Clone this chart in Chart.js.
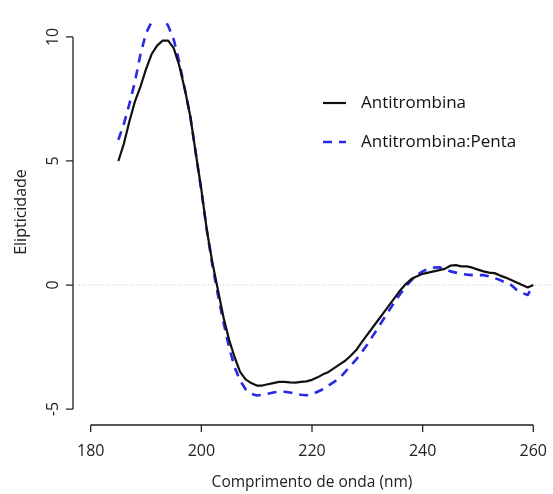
<!DOCTYPE html>
<html><head><meta charset="utf-8">
<script src="https://cdn.jsdelivr.net/npm/chart.js@4.4.1/dist/chart.umd.min.js"></script>
<style>html,body{margin:0;padding:0;background:#fff}#wrap{width:553px;height:494px}</style>
</head><body><div id="wrap"><canvas id="c" width="553" height="494"></canvas></div>
<script>
const wavelengths = [185,186,187,188,189,190,191,192,193,194,195,196,197,198,199,200,201,202,203,204,205,206,207,208,209,210,211,212,213,214,215,216,217,218,219,220,221,222,223,224,225,226,227,228,229,230,231,232,233,234,235,236,237,238,239,240,241,242,243,244,245,246,247,248,249,250,251,252,253,254,255,256,257,258,259,260];
const antitrombina = [5.0,5.7,6.6,7.4,8.0,8.7,9.3,9.65,9.85,9.85,9.55,8.85,7.9,6.8,5.3,3.85,2.2,0.9,-0.2,-1.3,-2.2,-2.9,-3.5,-3.8,-3.95,-4.05,-4.05,-4.0,-3.95,-3.9,-3.9,-3.92,-3.93,-3.9,-3.88,-3.82,-3.72,-3.6,-3.5,-3.35,-3.2,-3.05,-2.85,-2.62,-2.3,-2.0,-1.7,-1.4,-1.1,-0.8,-0.5,-0.2,0.05,0.25,0.35,0.45,0.5,0.55,0.6,0.65,0.78,0.8,0.75,0.75,0.7,0.62,0.55,0.5,0.48,0.38,0.3,0.2,0.1,0.0,-0.1,0.0];
const antitrombinaPenta = [5.85,6.5,7.3,8.2,9.3,10.15,10.6,10.82,10.82,10.45,9.9,9.0,7.9,6.8,5.3,3.8,2.2,0.8,-0.4,-1.5,-2.5,-3.3,-3.85,-4.2,-4.38,-4.45,-4.42,-4.38,-4.33,-4.3,-4.3,-4.33,-4.38,-4.42,-4.44,-4.4,-4.3,-4.2,-4.05,-3.9,-3.75,-3.5,-3.25,-3.0,-2.7,-2.4,-2.05,-1.7,-1.35,-1.0,-0.65,-0.35,-0.05,0.2,0.4,0.55,0.65,0.7,0.72,0.65,0.55,0.5,0.45,0.42,0.4,0.4,0.4,0.35,0.28,0.2,0.1,0.0,-0.2,-0.32,-0.4,0.0];
const xTicks = [180,200,220,240,260];
const yTicks = [-5,0,5,10];
const seriesNames = ['Antitrombina','Antitrombina:Penta'];
const xTitle = 'Comprimento de onda (nm)';
const yTitle = 'Elipticidade';

const FONT = '"Open Sans", sans-serif';

const axesPlugin = {
  id: 'rAxes',
  beforeDatasetsDraw(chart) {
    const {ctx, chartArea, scales} = chart;
    const y0 = scales.y.getPixelForValue(0);
    ctx.save();
    ctx.strokeStyle = '#c8c8c8';
    ctx.lineWidth = 1;
    ctx.setLineDash([1, 2]);
    ctx.beginPath();
    ctx.moveTo(chartArea.left, y0);
    ctx.lineTo(chartArea.right, y0);
    ctx.stroke();
    ctx.restore();
  },
  afterDraw(chart) {
    const {ctx, chartArea, scales} = chart;
    const xs = scales.x, ys = scales.y;
    ctx.save();
    ctx.strokeStyle = '#222';
    ctx.fillStyle = '#222';
    ctx.lineWidth = 1.3;
    // y axis
    const ax = chartArea.left;
    ctx.beginPath();
    ctx.moveTo(ax, ys.getPixelForValue(yTicks[0]));
    ctx.lineTo(ax, ys.getPixelForValue(yTicks[yTicks.length - 1]));
    yTicks.forEach(t => {
      const p = ys.getPixelForValue(t);
      ctx.moveTo(ax, p); ctx.lineTo(ax - 7, p);
    });
    ctx.stroke();
    ctx.font = '16px ' + FONT;
    ctx.textAlign = 'center';
    ctx.textBaseline = 'middle';
    yTicks.forEach(t => {
      const p = ys.getPixelForValue(t);
      ctx.save();
      ctx.translate(53, p);
      ctx.rotate(-Math.PI / 2);
      ctx.fillText(String(t), 0, 0);
      ctx.restore();
    });
    // x axis
    const ay = chartArea.bottom + 1;
    ctx.beginPath();
    ctx.moveTo(xs.getPixelForValue(xTicks[0]), ay);
    ctx.lineTo(xs.getPixelForValue(xTicks[xTicks.length - 1]), ay);
    xTicks.forEach(t => {
      const p = xs.getPixelForValue(t);
      ctx.moveTo(p, ay); ctx.lineTo(p, ay + 7);
    });
    ctx.stroke();
    xTicks.forEach(t => {
      ctx.fillText(String(t), xs.getPixelForValue(t), 451);
    });
    // titles
    ctx.font = '15.5px ' + FONT;
    ctx.fillText(xTitle, 312, 483);
    ctx.save();
    ctx.font = '16px ' + FONT;
    ctx.translate(21, 212);
    ctx.rotate(-Math.PI / 2);
    ctx.fillText(yTitle, 0, 0);
    ctx.restore();
    // legend
    ctx.font = '17px ' + FONT;
    ctx.textAlign = 'left';
    const rows = [103, 142];
    chart.data.datasets.forEach((ds, i) => {
      ctx.save();
      ctx.strokeStyle = ds.borderColor;
      ctx.lineWidth = ds.borderWidth;
      ctx.setLineDash(ds.borderDash || []);
      ctx.beginPath();
      ctx.moveTo(323, rows[i]); ctx.lineTo(346, rows[i]);
      ctx.stroke();
      ctx.restore();
      ctx.fillStyle = '#111';
      ctx.fillText(ds.label, 361, rows[i]);
    });
    ctx.restore();
  }
};

new Chart(document.getElementById('c'), {
  type: 'line',
  data: {
    datasets: [
      {
        label: seriesNames[0],
        data: wavelengths.map((w, i) => ({x: w, y: antitrombina[i]})),
        borderColor: '#111111',
        borderWidth: 2.2,
        pointRadius: 0,
        tension: 0,
        fill: false
      },
      {
        label: seriesNames[1],
        data: wavelengths.map((w, i) => ({x: w, y: antitrombinaPenta[i]})),
        borderColor: '#2a2ae6',
        borderWidth: 2.6,
        borderDash: [9, 7],
        pointRadius: 0,
        tension: 0,
        fill: false
      }
    ]
  },
  options: {
    responsive: false,
    animation: false,
    devicePixelRatio: 1,
    layout: {padding: {left: 73, right: 2, top: 22, bottom: 70}},
    scales: {
      x: {type: 'linear', min: 176.8, max: 263.2, display: false},
      y: {type: 'linear', min: -5.6, max: 10.6, display: false}
    },
    plugins: {legend: {display: false}, tooltip: {enabled: false}},
    elements: {line: {borderCapStyle: 'butt', borderJoinStyle: 'round'}}
  },
  plugins: [axesPlugin]
});
</script>
</body></html>
